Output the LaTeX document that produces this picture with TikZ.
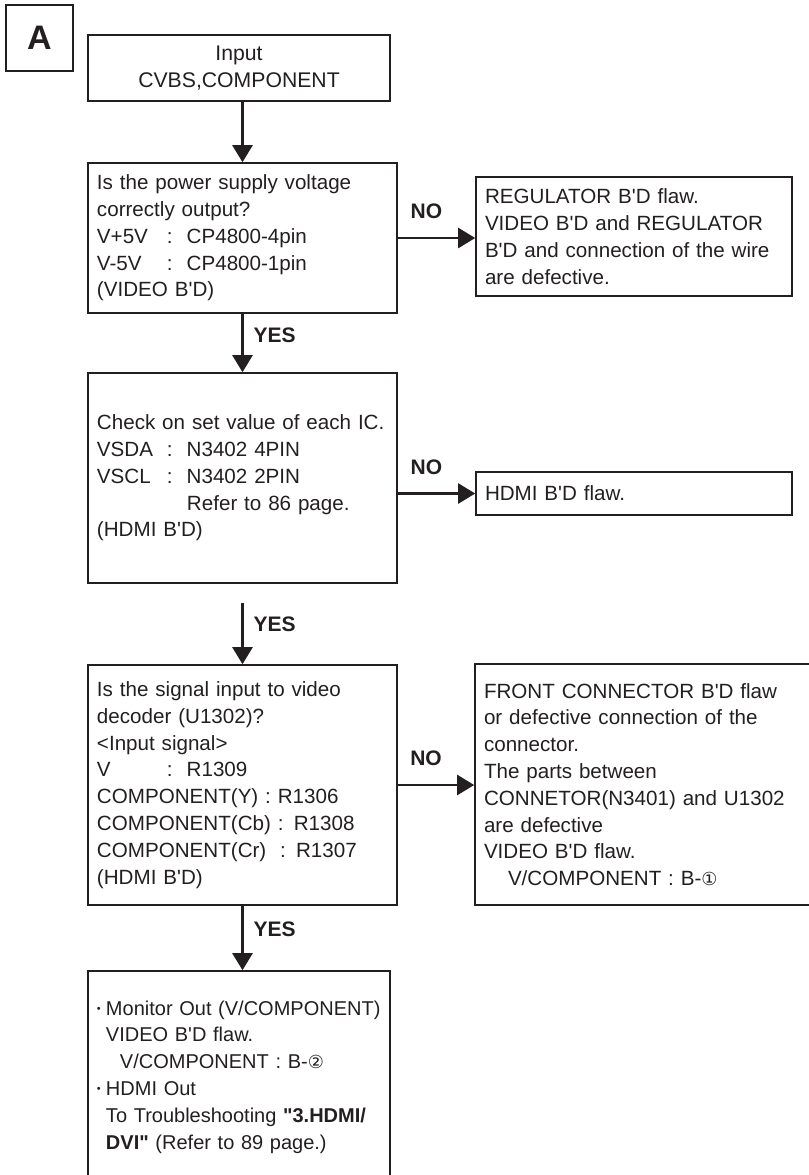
\documentclass[tikz,border=0pt]{standalone}
\usepackage{fontspec}
\setmainfont{Liberation Sans}[Ligatures=TeXOff]
\newfontfamily\circfont{DejaVu Sans}
\usepackage{tikz}
\usetikzlibrary{arrows.meta,positioning}
\definecolor{ink}{HTML}{231F20}
\newcommand{\tabto}[1]{\makebox[35pt][l]{#1}}
\newcommand{\smalldot}{\makebox[4.5pt][l]{\raisebox{1.4pt}{\scalebox{0.55}{\textbullet}}}}

\begin{document}
\begin{tikzpicture}[x=0.5pt,y=-0.5pt,
  font=\fontsize{10.3}{13.4}\selectfont,
  box/.style={draw=ink,line width=0.8pt,inner xsep=4.5pt,inner ysep=0pt,align=left,text=ink},
  qbox/.style={box,text width=145.5pt},
  rbox/.style={box,text width=149pt},
  lbl/.style={font=\fontsize{10.5}{12}\selectfont\bfseries,inner sep=0pt,text=ink},
  arr/.style={-{Triangle[length=8.5pt,width=10pt]},line width=1.2pt,draw=ink}]
\useasboundingbox (0,0) rectangle (809,1175);
\clip (0,0) rectangle (809,1175);
\node[box,align=center,inner sep=0pt,minimum width=33.5pt,minimum height=33pt,font=\fontsize{17}{17}\selectfont\bfseries] (tagA) at (39.5,38) {A};
\node[box,align=center,minimum width=151pt,minimum height=33pt,font=\fontsize{10.6}{13.4}\selectfont] (inp) at (239,68) {Input\\CVBS,COMPONENT};
\node[qbox,minimum height=75pt] (q1) at (242.5,238) {Is the power supply voltage\\correctly output?\\\tabto{V+5V}:\hspace{7pt}CP4800-4pin\\\tabto{V-5V}:\hspace{7pt}CP4800-1pin\\(VIDEO B'D)};
\node[rbox,minimum height=59.5pt] (reg) at (634,236.5) {REGULATOR B'D flaw.\\VIDEO B'D and REGULATOR\\\mbox{B'D and connection of the wire}\\are defective.};
\node[qbox,minimum height=105pt] (q2) at (242.5,478) {\mbox{Check on set value of each IC.}\\\tabto{VSDA}:\hspace{7pt}N3402 4PIN\\\tabto{VSCL}:\hspace{7pt}N3402 2PIN\\\hspace*{45pt}Refer to 86 page.\\(HDMI B'D)};
\node[rbox,minimum height=21.5pt] (hdmi) at (634,493.5) {HDMI B'D flaw.};
\node[qbox,minimum height=120pt] (q3) at (242.5,785) {Is the signal input to video\\decoder (U1302)?\\<Input signal>\\\tabto{V}:\hspace{7pt}R1309\\COMPONENT(Y) : R1306\\COMPONENT(Cb) : R1308\\COMPONENT(Cr)\ \ : R1307\\(HDMI B'D)};
\node[box,text width=166.5pt,minimum height=120.5pt] (front) at (650.5,784.5) {FRONT CONNECTOR B'D flaw\\or defective connection of the\\connector.\\The parts between\\\mbox{CONNETOR(N3401) and U1302}\\are defective\\VIDEO B'D flaw.\\\hspace*{12pt}V/COMPONENT : B-{\circfont\small ①}};
\node[box,text width=142pt,minimum height=106pt,font=\fontsize{10}{13.4}\selectfont] (outb) at (239,1077) {\mbox{\smalldot Monitor Out (V/COMPONENT)}\\\hspace*{4.5pt}VIDEO B'D flaw.\\\hspace*{11.5pt}V/COMPONENT : B-{\circfont\small ②}\\\smalldot HDMI Out\\\mbox{\hspace*{4.5pt}To Troubleshooting \textbf{"3.HDMI/}}\\\hspace*{4.5pt}\textbf{DVI"} (Refer to 89 page.)};
\coordinate[below=9.5pt of q2.south] (q2out);
\draw[arr] (q1.north |- inp.south) -- (q1.north);
\draw[arr] (q1.south) -- node[lbl,right=5pt,pos=0.36] {YES} (q2.north);
\draw[arr] (q1.east) -- node[lbl,above=9pt,pos=0.37] {NO} (q1.east -| reg.west);
\draw[arr] (hdmi.west -| q2.east) -- node[lbl,above=9pt,pos=0.37] {NO} (hdmi.west);
\draw[arr] (q2out) -- node[lbl,right=5pt,pos=0.35] {YES} (q3.north);
\draw[arr] (q3.east) -- node[lbl,above=9pt,pos=0.37] {NO} (q3.east -| front.west);
\draw[arr] (q3.south) -- node[lbl,right=5pt,pos=0.37] {YES} (q3.south |- outb.north);
\end{tikzpicture}
\end{document}
